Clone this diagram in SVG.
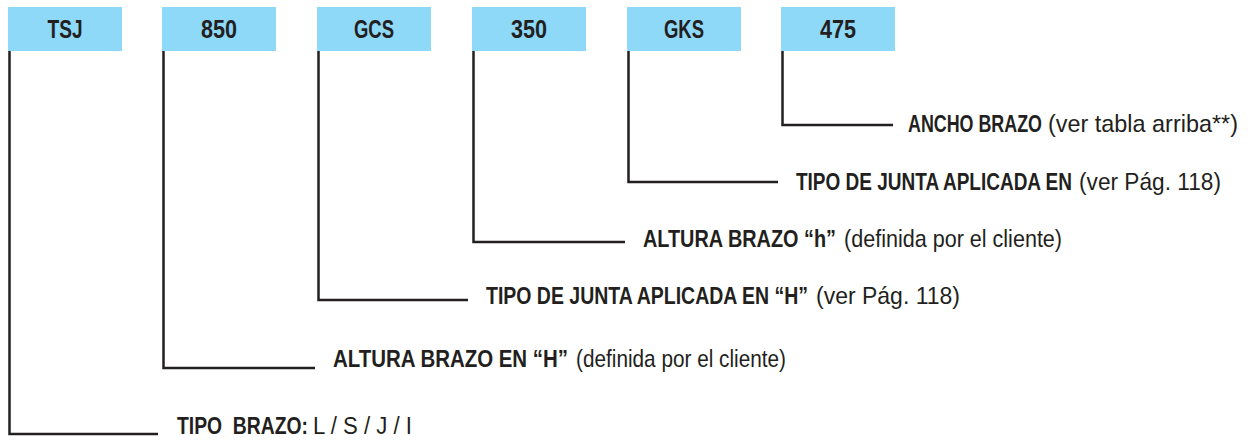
<svg xmlns="http://www.w3.org/2000/svg" width="1255" height="441" viewBox="0 0 1255 441">
<style>
.box{fill:#8ED8F8}
.code{font-family:"Liberation Sans",Arial,sans-serif;font-weight:bold;font-size:25px;fill:#231F20;text-anchor:middle}
.lbl{font-family:"Liberation Sans",Arial,sans-serif;font-size:24px;fill:#231F20}
.b{font-weight:bold}
.conn{fill:none;stroke:#231F20;stroke-width:2.5}
</style>
<rect width="1255" height="441" fill="#fff"/>
<g id="connectors">
<path class="conn" d="M9.5 51 V434 H158"/>
<path class="conn" d="M163.5 51 V368 H315"/>
<path class="conn" d="M318.5 51 V300 H468"/>
<path class="conn" d="M473.5 51 V242 H625"/>
<path class="conn" d="M628.5 51 V182 H778"/>
<path class="conn" d="M782.5 51 V125 H893"/>
</g>
<g id="node-tsj"><rect class="box" x="8" y="7" width="114" height="44"/><text class="code" x="65" y="37.5" textLength="35" lengthAdjust="spacingAndGlyphs">TSJ</text></g>
<g id="node-850"><rect class="box" x="162" y="7" width="114" height="44"/><text class="code" x="219" y="37.5" textLength="36" lengthAdjust="spacingAndGlyphs">850</text></g>
<g id="node-gcs"><rect class="box" x="317" y="7" width="114" height="44"/><text class="code" x="374" y="37.5" textLength="40" lengthAdjust="spacingAndGlyphs">GCS</text></g>
<g id="node-350"><rect class="box" x="472" y="7" width="114" height="44"/><text class="code" x="529" y="37.5" textLength="36" lengthAdjust="spacingAndGlyphs">350</text></g>
<g id="node-gks"><rect class="box" x="627" y="7" width="114" height="44"/><text class="code" x="684" y="37.5" textLength="40" lengthAdjust="spacingAndGlyphs">GKS</text></g>
<g id="node-475"><rect class="box" x="781" y="7" width="114" height="44"/><text class="code" x="838" y="37.5" textLength="36" lengthAdjust="spacingAndGlyphs">475</text></g>
<g id="label-ancho">
<text class="lbl b" transform="translate(908 132) scale(0.8 1)" textLength="167.5" lengthAdjust="spacingAndGlyphs">ANCHO BRAZO</text>
<text class="lbl" transform="translate(1048 132) scale(0.92 1)" textLength="206.5" lengthAdjust="spacingAndGlyphs">(ver tabla arriba**)</text>
</g>
<g id="label-junta">
<text class="lbl b" transform="translate(796 190) scale(0.8 1)" textLength="345" lengthAdjust="spacingAndGlyphs">TIPO DE JUNTA APLICADA EN</text>
<text class="lbl" transform="translate(1079 190) scale(0.92 1)" textLength="154.3" lengthAdjust="spacingAndGlyphs">(ver Pág. 118)</text>
</g>
<g id="label-altura-h">
<text class="lbl b" transform="translate(643 247) scale(0.8 1)" textLength="241.25" lengthAdjust="spacingAndGlyphs">ALTURA BRAZO “h”</text>
<text class="lbl" transform="translate(844 247) scale(0.92 1)" textLength="237" lengthAdjust="spacingAndGlyphs">(definida por el cliente)</text>
</g>
<g id="label-junta-H">
<text class="lbl b" transform="translate(486 304) scale(0.8 1)" textLength="402.5" lengthAdjust="spacingAndGlyphs">TIPO DE JUNTA APLICADA EN “H”</text>
<text class="lbl" transform="translate(816 304) scale(0.92 1)" textLength="156.5" lengthAdjust="spacingAndGlyphs">(ver Pág. 118)</text>
</g>
<g id="label-altura-H">
<text class="lbl b" transform="translate(333 367) scale(0.8 1)" textLength="293.75" lengthAdjust="spacingAndGlyphs">ALTURA BRAZO EN “H”</text>
<text class="lbl" transform="translate(576 367) scale(0.92 1)" textLength="228.3" lengthAdjust="spacingAndGlyphs">(definida por el cliente)</text>
</g>
<g id="label-tipo">
<text class="lbl b" transform="translate(177 434) scale(0.8 1)" textLength="163.75" lengthAdjust="spacingAndGlyphs" style="white-space:pre">TIPO  BRAZO:</text>
<text class="lbl" transform="translate(313 434) scale(0.92 1)" textLength="107.6" lengthAdjust="spacingAndGlyphs">L / S / J / I</text>
</g>
</svg>
